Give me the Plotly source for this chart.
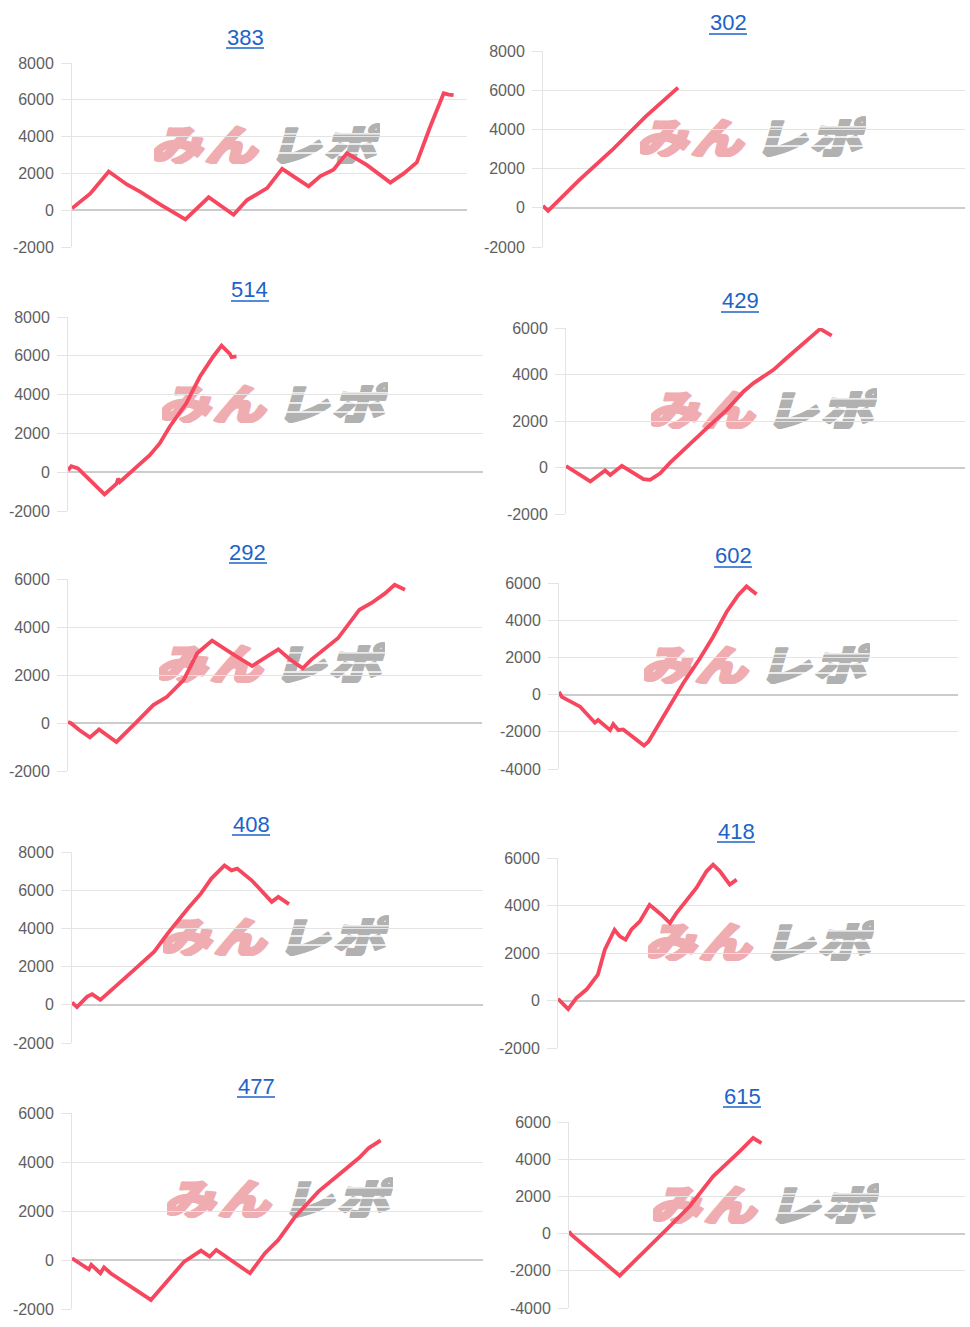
import base64
import plotly.graph_objects as go

W, H = 970, 1327

# ---------------- data (x = % of the horizontal axis, y = difference in medals) -------------
titles = ["383", "302", "514", "429", "292", "602", "408", "418", "477", "615"]

x_383 = [0, 4.6, 9.3, 13.9, 17.3, 22.4, 28.7, 34.6, 40.9, 44.3, 49.4, 53.2, 59.9, 62.9, 66.2, 69.6, 74.7, 80.6, 84.0, 87.3, 90.7, 94.1, 95.4, 96.6]
y_383 = [100, 900, 2100, 1400, 1000, 300, -500, 700, -250, 550, 1200, 2250, 1300, 1850, 2200, 3100, 2450, 1500, 2000, 2600, 4550, 6350, 6280, 6250]

x_302 = [0, 1.2, 8.5, 16.4, 24.3, 32.0]
y_302 = [100, -150, 1400, 2950, 4650, 6130]

x_514 = [0, 0.8, 2.4, 8.8, 11.7, 12.1, 12.5, 15.7, 19.7, 22.1, 24.5, 28.5, 31.8, 35.0, 37.0, 39.0, 39.4, 40.6]
y_514 = [100, 310, 190, -1140, -590, -330, -500, 100, 880, 1480, 2345, 3550, 4930, 5965, 6520, 6100, 5930, 5965]

x_429 = [0, 1.5, 6.1, 9.8, 11.1, 14.0, 19.4, 21.1, 23.6, 26.1, 30.3, 35.3, 40.3, 44.5, 47.0, 52.0, 55.3, 61.2, 63.7, 66.6]
y_429 = [60, -100, -600, -130, -320, 70, -500, -530, -250, 210, 900, 1690, 2480, 3270, 3630, 4200, 4710, 5570, 5960, 5670]

x_292 = [0, 0.8, 2.8, 5.3, 7.5, 11.7, 16.6, 20.6, 23.9, 27.9, 31.2, 34.8, 40.1, 44.5, 48.2, 50.8, 53.8, 56.7, 58.7, 65.2, 70.4, 73.3, 76.5, 78.9, 81.4]
y_292 = [48, -20, -300, -600, -270, -790, 50, 745, 1090, 1790, 2905, 3435, 2835, 2375, 2790, 3070, 2630, 2280, 2630, 3530, 4720, 5000, 5390, 5760, 5550]

x_602 = [0, 0.7, 5.3, 9.0, 9.8, 12.8, 13.6, 14.9, 16.1, 20.3, 21.3, 22.4, 27.0, 31.1, 35.3, 38.6, 42.0, 44.9, 47.0, 49.5]
y_602 = [150, -120, -650, -1510, -1370, -1910, -1590, -1910, -1870, -2530, -2740, -2530, -830, 600, 1940, 3100, 4440, 5340, 5820, 5390]

x_408 = [0, 1.2, 3.7, 4.9, 6.9, 10.2, 15.1, 20.0, 23.3, 28.2, 31.4, 33.9, 37.1, 38.8, 40.2, 43.7, 48.6, 50.2, 52.8]
y_408 = [120, -120, 430, 560, 260, 870, 1830, 2780, 3740, 5040, 5830, 6610, 7300, 7040, 7130, 6520, 5390, 5650, 5270]

x_418 = [0, 2.5, 4.5, 7.0, 9.8, 11.5, 13.9, 15.2, 16.6, 18.0, 20.1, 22.5, 25.4, 27.5, 29.1, 34.0, 36.5, 38.1, 39.8, 42.2, 43.9]
y_418 = [75, -360, 100, 460, 1090, 2140, 2980, 2700, 2560, 2980, 3330, 4030, 3610, 3260, 3680, 4740, 5440, 5720, 5440, 4880, 5090]

x_477 = [0, 2.0, 4.1, 4.7, 6.9, 7.8, 9.4, 19.2, 24.9, 27.3, 31.4, 33.5, 35.1, 39.6, 43.3, 46.9, 50.2, 54.3, 60.0, 64.9, 69.8, 72.2, 75.1]
y_477 = [71, -160, -380, -200, -540, -300, -540, -1630, -540, -65, 385, 140, 410, -130, -540, 270, 820, 1770, 2800, 3480, 4160, 4570, 4880]

x_615 = [0, 0.6, 12.8, 17.0, 24.6, 30.5, 36.4, 43.1, 46.5, 48.6]
y_615 = [122, -60, -2260, -1400, 210, 1470, 3080, 4420, 5140, 4870]

ticks_383 = [-2000, 0, 2000, 4000, 6000, 8000]
ticks_302 = [-2000, 0, 2000, 4000, 6000, 8000]
ticks_514 = [-2000, 0, 2000, 4000, 6000, 8000]
ticks_429 = [-2000, 0, 2000, 4000, 6000]
ticks_292 = [-2000, 0, 2000, 4000, 6000]
ticks_602 = [-4000, -2000, 0, 2000, 4000, 6000]
ticks_408 = [-2000, 0, 2000, 4000, 6000, 8000]
ticks_418 = [-2000, 0, 2000, 4000, 6000]
ticks_477 = [-2000, 0, 2000, 4000, 6000]
ticks_615 = [-4000, -2000, 0, 2000, 4000, 6000]

xs = [x_383, x_302, x_514, x_429, x_292, x_602, x_408, x_418, x_477, x_615]
ys = [y_383, y_302, y_514, y_429, y_292, y_602, y_408, y_418, y_477, y_615]
tks = [ticks_383, ticks_302, ticks_514, ticks_429, ticks_292, ticks_602, ticks_408, ticks_418, ticks_477, ticks_615]

# ---------------- layout geometry (pixels): plot box and title centre -------------
boxes = [  # left, right, top, bottom
    (72, 467, 63, 247), (543, 965, 51, 247),
    (68, 483, 317, 511), (566, 965, 328, 514),
    (68, 482, 579, 771), (559, 958, 583, 769),
    (72, 483, 852, 1043), (558, 965, 858, 1048),
    (72, 483, 1113, 1309), (569, 965, 1122, 1308),
]
title_pos = [(245, 37), (728, 23), (250, 290), (740, 301), (248, 552),
             (733, 556), (251, 824), (736, 831), (256, 1086), (742, 1096)]
logo_pos = [(267, 143), (753, 136), (275, 402), (764, 408), (272, 662),
            (757, 663), (276, 935), (761, 940), (280, 1197), (766, 1203)]

LINE = "#f7475f"
GRID = "#e4e4e4"

# watermark logo as an SVG image (drawn below the data line)
PINK = "#efadb2"
GREY = "#b1b1b1"
logo_svg = f'''<svg xmlns="http://www.w3.org/2000/svg" width="200" height="46" viewBox="0 0 200 46">
<g transform="translate(6,0) skewX(-13)" font-family="Noto Sans CJK JP" font-weight="900" font-size="46"
   text-anchor="middle" dominant-baseline="central" stroke-linejoin="round">
<text x="23" y="23" fill="{PINK}" stroke="{PINK}" stroke-width="3">み</text>
<text x="72" y="23" fill="{PINK}" stroke="{PINK}" stroke-width="3">ん</text>
<text x="128" y="23" fill="{GREY}" stroke="{GREY}" stroke-width="3">レ</text>
<text x="177" y="23" fill="{GREY}" stroke="{GREY}" stroke-width="3">ポ</text>
</g>
<g stroke="white" stroke-width="1.6">
<line x1="100" y1="13" x2="200" y2="13"/>
<line x1="100" y1="24" x2="200" y2="24"/>
<line x1="100" y1="34" x2="200" y2="34"/>
</g>
</svg>'''
logo_uri = "data:image/svg+xml;base64," + base64.b64encode(logo_svg.encode("utf-8")).decode()
LOGO_W, LOGO_H = 226, 42

fig = go.Figure()
annotations = []
shapes = []
images = []

for i in range(10):
    n = "" if i == 0 else str(i + 1)
    l, r, t, b = boxes[i]
    tk = tks[i]
    fig.add_trace(go.Scatter(
        x=xs[i], y=ys[i], mode="lines", xaxis="x" + n, yaxis="y" + n,
        line=dict(color=LINE, width=3.8), showlegend=False, hoverinfo="skip"))
    fig.update_layout(**{
        "xaxis" + n: dict(domain=[l / W, r / W], anchor="y" + n, range=[0, 100],
                          showgrid=False, zeroline=False, showticklabels=False,
                          showline=False, fixedrange=True, automargin=False),
        "yaxis" + n: dict(domain=[1 - b / H, 1 - t / H], anchor="x" + n,
                          range=[tk[0], tk[-1]], tickvals=tk,
                          ticktext=[str(v) for v in tk],
                          showgrid=True, gridcolor=GRID, gridwidth=1,
                          zeroline=True, zerolinecolor="#cccccc", zerolinewidth=1.5,
                          showline=True, linecolor=GRID, linewidth=1,
                          ticks="outside", ticklen=10, tickcolor=GRID,
                          ticklabelstandoff=4, automargin=False,
                          tickfont=dict(family="Liberation Sans, Arial, sans-serif",
                                        size=16, color="#5f5f5f"),
                          fixedrange=True),
    })
    tx, ty = title_pos[i]
    annotations.append(dict(
        x=tx / W, y=1 - ty / H, xref="paper", yref="paper", text=titles[i],
        showarrow=False, xanchor="center", yanchor="middle",
        font=dict(family="Liberation Sans, Arial, sans-serif", size=22, color="#1d63c8")))
    shapes.append(dict(type="line", xref="paper", yref="paper",
                       x0=(tx - 19) / W, x1=(tx + 19) / W,
                       y0=1 - (ty + 11) / H, y1=1 - (ty + 11) / H,
                       line=dict(color="#1d63c8", width=1.5)))
    lx, ly = logo_pos[i]
    images.append(dict(source=logo_uri, xref="paper", yref="paper",
                       x=(lx - LOGO_W / 2) / W, y=1 - (ly - LOGO_H / 2) / H,
                       sizex=LOGO_W / W, sizey=LOGO_H / H,
                       xanchor="left", yanchor="top", sizing="stretch", layer="below"))

fig.update_layout(
    width=W, height=H, margin=dict(l=0, r=0, t=0, b=0, pad=0), autosize=False,
    paper_bgcolor="white", plot_bgcolor="rgba(0,0,0,0)",
    annotations=annotations, shapes=shapes, images=images, showlegend=False)

fig.write_html(
    "out.html",
    config={"responsive": False, "displayModeBar": False},
    post_script=(
        "document.documentElement.style.margin='0px';"
        "document.documentElement.style.padding='0px';"
        "document.documentElement.style.overflow='hidden';"
        "document.body.style.margin='0px';document.body.style.padding='0px';"
        "document.body.style.overflow='hidden';"
        "var d=document.getElementById('{plot_id}');"
        "d.style.position='fixed';d.style.top='0px';d.style.left='0px';"
    ),
)
